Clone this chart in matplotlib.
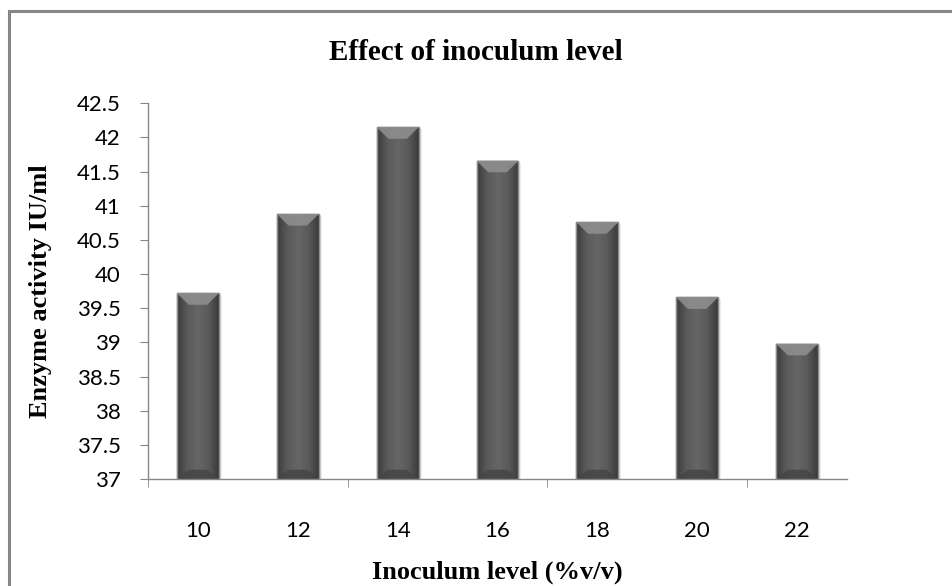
import numpy as np
import matplotlib
matplotlib.use("Agg")
import matplotlib.pyplot as plt
from matplotlib.patches import Rectangle, Polygon
from matplotlib.colors import LinearSegmentedColormap

categories = ["10", "12", "14", "16", "18", "20", "22"]
values = [39.72, 40.88, 42.15, 41.66, 40.76, 39.66, 38.98]
y_ticks = [37, 37.5, 38, 38.5, 39, 39.5, 40, 40.5, 41, 41.5, 42, 42.5]
y_tick_labels = ["37", "37.5", "38", "38.5", "39", "39.5", "40", "40.5", "41", "41.5", "42", "42.5"]

title = "Effect of inoculum level"
xlabel = "Inoculum level (%v/v)"
ylabel = "Enzyme activity IU/ml"

W, H = 952, 586
fig = plt.figure(figsize=(W / 100, H / 100), dpi=100)
ax = fig.add_axes([148 / W, 1 - 479 / H, (847 - 148) / W, (479 - 103.3) / H])

# outer chart border (extends beyond right/bottom)
fig.patches.append(Rectangle((9 / W, -0.1), 1.2, 1 - 11 / H + 0.1, transform=fig.transFigure,
                             fill=False, edgecolor="#878787", linewidth=2.2, zorder=0))

x = np.arange(len(categories))
bw = 0.42
bars = ax.bar(x, values, width=bw, bottom=0, color="#555555", edgecolor="#8c8c8c",
              linewidth=1.0, zorder=3)

ax.set_ylim(37, 42.5)
ax.set_xlim(-0.5, len(categories) - 0.5)

# shading: horizontal gradient inside each bar
cmap = LinearSegmentedColormap.from_list("g", ["#3c3c3c", "#5a5a5a", "#666666", "#5a5a5a", "#3a3a3a"])
grad = np.linspace(0, 1, 256).reshape(1, -1)
bevel_h = 0.17
for xi, v, b in zip(x, values, bars):
    im = ax.imshow(grad, cmap=cmap, aspect="auto",
                   extent=(xi - bw / 2, xi + bw / 2, 37, v), zorder=3.5, interpolation="bicubic")
    im.set_clip_path(b)
    inset = bw * 0.28
    top = Polygon([(xi - bw / 2, v), (xi + bw / 2, v), (xi + bw / 2 - inset, v - bevel_h),
                   (xi - bw / 2 + inset, v - bevel_h)], closed=True,
                  facecolor="#8e8e8e", edgecolor="none", zorder=3.6, alpha=0.9)
    ax.add_patch(top)
    bot = Polygon([(xi - bw / 2, 37), (xi + bw / 2, 37), (xi + bw / 2 - inset, 37 + bevel_h * 0.8),
                   (xi - bw / 2 + inset, 37 + bevel_h * 0.8)], closed=True,
                  facecolor="#444444", edgecolor="none", zorder=3.6, alpha=0.8)
    ax.add_patch(bot)
    ax.add_patch(Rectangle((xi - bw / 2, 37), bw, v - 37, fill=False, edgecolor="#8c8c8c",
                           linewidth=1.0, zorder=3.8))
    ax.add_patch(Rectangle((xi + bw / 2, 37), 0.03, v - 37 - 0.03, facecolor="#000000",
                           alpha=0.07, edgecolor="none", zorder=2.5))

for s in ["top", "right"]:
    ax.spines[s].set_visible(False)
for s in ["left", "bottom"]:
    ax.spines[s].set_color("#868686")
    ax.spines[s].set_linewidth(1.0)

tick_font = "Lato"
ax.set_yticks(y_ticks)
ax.set_yticklabels(y_tick_labels, fontsize=16, fontfamily=tick_font)
ax.tick_params(axis="y", direction="out", length=5.5, color="#868686", pad=14)

ax.set_xticks(x)
ax.set_xticklabels(categories, fontsize=16, fontfamily=tick_font)
ax.set_xticks(np.arange(-0.5, len(categories), 2), minor=True)
ax.tick_params(axis="x", which="major", length=0, pad=30)
ax.tick_params(axis="x", which="minor", direction="out", length=6, color="#868686")

ax.set_xlabel(xlabel, fontsize=19, fontweight="bold", fontfamily="Liberation Serif", labelpad=14)
ax.set_ylabel(ylabel, fontsize=19, fontweight="bold", fontfamily="Liberation Serif", labelpad=18)
fig.text(476 / W, 1 - 53 / H, title, ha="center", va="center", fontsize=21,
         fontweight="bold", fontfamily="Liberation Serif")

fig.savefig("out.png", dpi=100)
